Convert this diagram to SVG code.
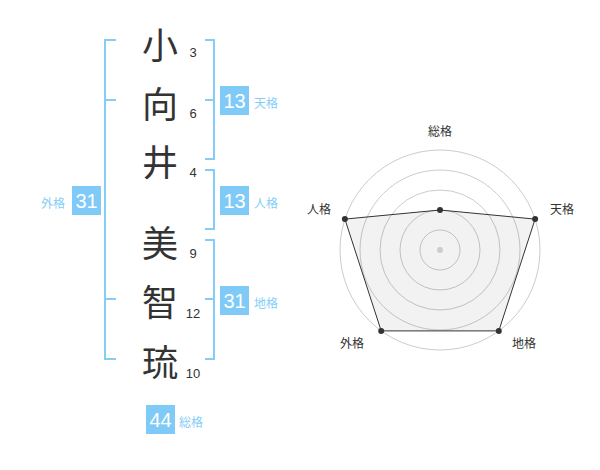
<svg xmlns="http://www.w3.org/2000/svg" width="600" height="470" viewBox="0 0 600 470">
<style>
.k{font-family:"Noto Sans CJK JP","Noto Sans CJK SC",sans-serif;font-size:36px;fill:#333;text-anchor:middle;dominant-baseline:central}
.n{font-family:"Liberation Sans",Arial,sans-serif;font-size:13px;fill:#333;text-anchor:middle}
.br{fill:none;stroke:#85cdf7;stroke-width:2}
.bx{fill:#7fcaf6}
.bt{font-family:"Liberation Sans",Arial,sans-serif;font-size:20px;fill:#fff;text-anchor:middle;dominant-baseline:central}
.lb{font-family:"Noto Sans CJK JP","Noto Sans CJK SC",sans-serif;font-size:12px;fill:#85cdf7;dominant-baseline:central}
.rl{font-family:"Noto Sans CJK JP","Noto Sans CJK SC",sans-serif;font-size:12px;fill:#333;text-anchor:middle;dominant-baseline:central}
.ring{fill:none;stroke:#ccc;stroke-width:1}
.pt{fill:#333}
</style>
<g id="chars">
<text class="k" x="160" y="43">小</text>
<text class="k" x="160" y="102">向</text>
<text class="k" x="160" y="160">井</text>
<text class="k" x="160" y="241">美</text>
<text class="k" x="160" y="300">智</text>
<text class="k" x="160" y="360">琉</text>
<text class="n" x="193" y="57">3</text>
<text class="n" x="193" y="118">6</text>
<text class="n" x="193" y="177">4</text>
<text class="n" x="193" y="258">9</text>
<text class="n" x="193" y="318">12</text>
<text class="n" x="193" y="378">10</text>
</g>
<g id="connectors">
<path class="br" d="M116,40 H105 V359 H116 M105,100 H116 M105,299 H116"/>
<path class="br" d="M205,40 H214 V159 H205 M205,100 H214"/>
<path class="br" d="M205,170 H214 V229 H205"/>
<path class="br" d="M205,240 H214 V359 H205 M205,299 H214"/>
</g>
<g id="tenkaku">
<rect class="bx" x="220" y="86" width="29" height="29"/>
<text class="bt" x="234.5" y="101">13</text>
<text class="lb" x="254" y="102">天格</text>
</g>
<g id="jinkaku">
<rect class="bx" x="220" y="186" width="29" height="29"/>
<text class="bt" x="234.5" y="201">13</text>
<text class="lb" x="254" y="202">人格</text>
</g>
<g id="chikaku">
<rect class="bx" x="220" y="286" width="29" height="29"/>
<text class="bt" x="234.5" y="301">31</text>
<text class="lb" x="254" y="302">地格</text>
</g>
<g id="gaikaku">
<rect class="bx" x="72" y="186" width="29" height="29"/>
<text class="bt" x="86.5" y="201">31</text>
<text class="lb" x="41" y="202">外格</text>
</g>
<g id="soukaku">
<rect class="bx" x="146" y="405" width="29" height="29"/>
<text class="bt" x="160.5" y="420">44</text>
<text class="lb" x="179" y="421">総格</text>
</g>
<g id="radar">
<circle class="ring" cx="440" cy="250" r="20"/>
<circle class="ring" cx="440" cy="250" r="40"/>
<circle class="ring" cx="440" cy="250" r="60"/>
<circle class="ring" cx="440" cy="250" r="80"/>
<circle class="ring" cx="440" cy="250" r="100"/>
<polygon points="440,210 535.1,219.1 498.8,330.9 381.2,330.9 344.9,219.1" fill="#000" fill-opacity="0.05" stroke="#333" stroke-width="1"/>
<circle cx="440" cy="250" r="3" fill="#ccc"/>
<circle class="pt" cx="440" cy="210" r="3"/>
<circle class="pt" cx="535.1" cy="219.1" r="3"/>
<circle class="pt" cx="498.8" cy="330.9" r="3"/>
<circle class="pt" cx="381.2" cy="330.9" r="3"/>
<circle class="pt" cx="344.9" cy="219.1" r="3"/>
<text class="rl" x="440" y="130">総格</text>
<text class="rl" x="562" y="208">天格</text>
<text class="rl" x="319" y="208">人格</text>
<text class="rl" x="352" y="342">外格</text>
<text class="rl" x="524" y="342">地格</text>
</g>
</svg>
